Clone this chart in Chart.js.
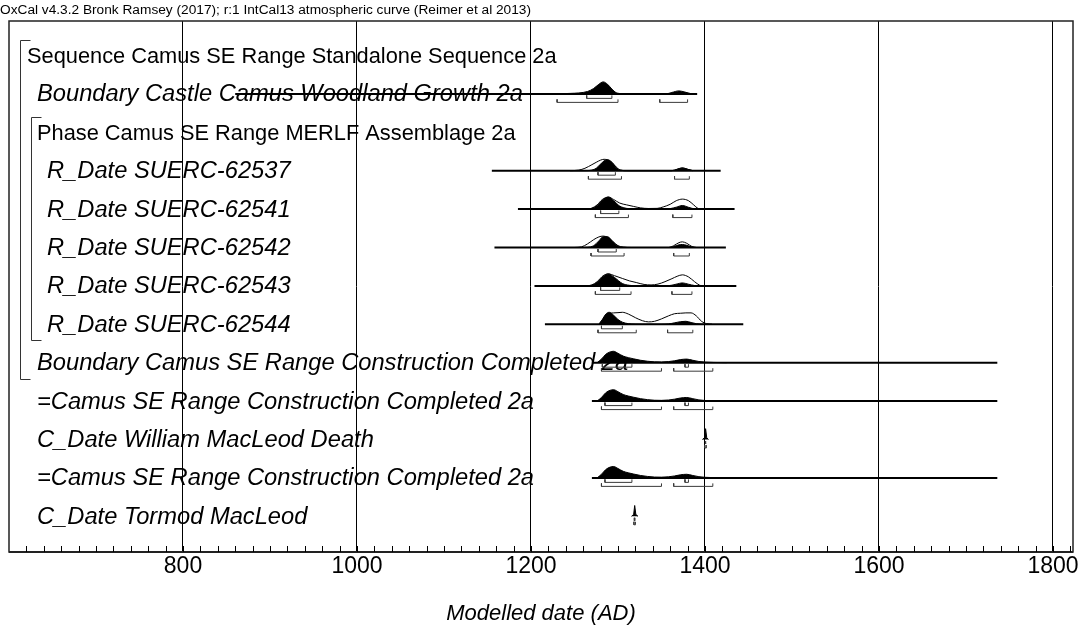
<!DOCTYPE html>
<html>
<head>
<meta charset="utf-8">
<script src="https://cdn.jsdelivr.net/npm/chart.js@4.4.0/dist/chart.umd.min.js"></script>
<style>
  html, body { margin: 0; padding: 0; background: #fff; }
  canvas { display: block; }
</style>
</head>
<body>
<canvas id="oxcalPlot" width="1083" height="628"></canvas>
<script>
const headerText = "OxCal v4.3.2 Bronk Ramsey (2017); r:1 IntCal13 atmospheric curve (Reimer et al 2013)";
const axisTitle = "Modelled date (AD)";
const labelledYears = [800, 1000, 1200, 1400, 1600, 1800];

const rowNames = [
  "Sequence Camus SE Range Standalone Sequence 2a",
  "Boundary Castle Camus Woodland Growth 2a",
  "Phase Camus SE Range MERLF Assemblage 2a",
  "R_Date SUERC-62537",
  "R_Date SUERC-62541",
  "R_Date SUERC-62542",
  "R_Date SUERC-62543",
  "R_Date SUERC-62544",
  "Boundary Camus SE Range Construction Completed 2a",
  "=Camus SE Range Construction Completed 2a",
  "C_Date William MacLeod Death",
  "=Camus SE Range Construction Completed 2a",
  "C_Date Tormod MacLeod"
];
const rowDepth = [0, 1, 1, 2, 2, 2, 2, 2, 1, 1, 1, 1, 1];

// model structure: Sequence rows 0-8, Phase rows 2-7
const groupFrom = [0, 2];
const groupTo = [8, 7];

// extent of the plotted range line for each row (null = none)
const lineFrom = [null, 860, null, 1155, 1185, 1158, 1204, 1216, 1270, 1270, null, 1270, null];
const lineTo = [null, 1391, null, 1418, 1434, 1424, 1436, 1444, 1736, 1736, null, 1736, null];

// Boundary Castle Camus Woodland Growth 2a
const castleYears = [1230, 1245, 1255, 1265, 1272, 1278, 1283, 1288, 1293, 1298, 1305, 1320, 1355, 1362, 1370, 1377, 1384, 1390];
const castlePost = [0, 0.04, 0.08, 0.2, 0.45, 0.8, 1.0, 0.8, 0.4, 0.1, 0.02, 0, 0, 0.12, 0.25, 0.15, 0.02, 0];
const castle68 = [[1264, 1293]];
const castle95 = [[1230, 1300], [1348, 1380]];

// R_Date SUERC-62537
const s62537Years = [1245, 1255, 1262, 1270, 1275, 1280, 1284, 1288, 1293, 1298, 1303, 1310, 1362, 1368, 1374, 1380, 1386];
const s62537Prior = [0, 0.05, 0.2, 0.5, 0.7, 0.88, 0.95, 0.9, 0.7, 0.3, 0.05, 0, 0, 0.12, 0.24, 0.12, 0];
const s62537Post = [0, 0, 0, 0.05, 0.2, 0.55, 0.82, 0.92, 0.7, 0.25, 0.04, 0, 0, 0.12, 0.22, 0.12, 0];
const s62537r68 = [[1277, 1297]];
const s62537r95 = [[1266, 1304], [1365, 1382]];

// R_Date SUERC-62541
const s62541Years = [1262, 1270, 1276, 1282, 1289, 1295, 1302, 1310, 1318, 1326, 1335, 1345, 1352, 1360, 1367, 1374, 1381, 1387, 1392, 1396];
const s62541Prior = [0, 0.08, 0.35, 0.8, 1.0, 0.8, 0.5, 0.35, 0.22, 0.1, 0.05, 0.06, 0.18, 0.4, 0.7, 0.83, 0.7, 0.35, 0.05, 0];
const s62541Post = [0, 0.06, 0.3, 0.75, 1.0, 0.7, 0.25, 0.06, 0.01, 0, 0, 0, 0, 0.04, 0.16, 0.3, 0.15, 0.03, 0, 0];
const s62541r68 = [[1280, 1301]];
const s62541r95 = [[1274, 1312], [1363, 1385]];

// R_Date SUERC-62542
const s62542Years = [1250, 1258, 1265, 1272, 1278, 1283, 1288, 1294, 1300, 1306, 1315, 1358, 1364, 1370, 1374, 1379, 1385, 1390];
const s62542Prior = [0, 0.05, 0.3, 0.65, 0.88, 0.95, 0.85, 0.5, 0.15, 0.03, 0, 0, 0.15, 0.4, 0.47, 0.35, 0.08, 0];
const s62542Post = [0, 0, 0.02, 0.15, 0.55, 0.9, 0.9, 0.5, 0.12, 0.02, 0, 0, 0.08, 0.22, 0.25, 0.18, 0.04, 0];
const s62542r68 = [[1277, 1298]];
const s62542r95 = [[1269, 1307], [1364, 1382]];

// R_Date SUERC-62543
const s62543Years = [1262, 1270, 1276, 1283, 1289, 1296, 1305, 1313, 1321, 1330, 1338, 1346, 1354, 1362, 1368, 1374, 1381, 1388, 1394, 1398];
const s62543Prior = [0, 0.08, 0.35, 0.85, 1.0, 0.85, 0.62, 0.42, 0.28, 0.12, 0.08, 0.15, 0.35, 0.6, 0.8, 0.92, 0.75, 0.35, 0.05, 0];
const s62543Post = [0, 0.06, 0.3, 0.8, 1.0, 0.7, 0.2, 0.05, 0.01, 0, 0, 0, 0, 0.06, 0.16, 0.25, 0.14, 0.03, 0, 0];
const s62543r68 = [[1280, 1302]];
const s62543r95 = [[1274, 1315], [1362, 1385]];

// R_Date SUERC-62544
const s62544Years = [1278, 1282, 1286, 1290, 1295, 1300, 1305, 1312, 1320, 1328, 1335, 1342, 1350, 1358, 1365, 1372, 1378, 1384, 1390, 1396, 1402, 1408];
const s62544Prior = [0, 0.35, 0.75, 0.9, 0.95, 0.97, 1.0, 0.85, 0.55, 0.3, 0.2, 0.25, 0.45, 0.7, 0.88, 0.92, 0.95, 0.95, 0.7, 0.25, 0.05, 0];
const s62544Post = [0, 0.4, 0.85, 1.0, 0.75, 0.4, 0.18, 0.05, 0.01, 0, 0, 0, 0, 0.03, 0.12, 0.22, 0.25, 0.15, 0.05, 0.01, 0, 0];
const s62544r68 = [[1281, 1305]];
const s62544r95 = [[1277, 1321], [1357, 1386]];

// Camus SE Range Construction Completed 2a (boundary and its two = copies)
const completedYears = [1276, 1281, 1286, 1291, 1295, 1300, 1306, 1312, 1318, 1326, 1334, 1342, 1350, 1358, 1365, 1372, 1379, 1386, 1393, 1400, 1410, 1425];
const completedPost = [0, 0.3, 0.7, 0.9, 0.95, 0.78, 0.55, 0.42, 0.32, 0.2, 0.12, 0.07, 0.06, 0.09, 0.16, 0.26, 0.3, 0.2, 0.1, 0.05, 0.02, 0];
const completedR68 = [[1282, 1316], [1377, 1381]];
const completedEqR68 = [[1285, 1316], [1377, 1381]];
const completedR95 = [[1281, 1350], [1364, 1409]];

// C_Date William MacLeod Death
const williamYears = [1397, 1399.5, 1400.7, 1402, 1404];
const williamPost = [0, 0.15, 0.9, 0.15, 0];
const williamR68 = [[1400.3, 1401.1]];
const williamR95 = [[1399.8, 1401.6]];

// C_Date Tormod MacLeod
const tormodYears = [1315.5, 1318, 1319.2, 1320.5, 1323];
const tormodPost = [0, 0.15, 0.9, 0.15, 0];
const tormodR68 = [[1318.8, 1319.6]];
const tormodR95 = [[1318.3, 1320.1]];

const rows = [
  { k: 1, years: castleYears, post: castlePost, r68: castle68, r95: castle95 },
  { k: 3, years: s62537Years, prior: s62537Prior, post: s62537Post, r68: s62537r68, r95: s62537r95 },
  { k: 4, years: s62541Years, prior: s62541Prior, post: s62541Post, r68: s62541r68, r95: s62541r95 },
  { k: 5, years: s62542Years, prior: s62542Prior, post: s62542Post, r68: s62542r68, r95: s62542r95 },
  { k: 6, years: s62543Years, prior: s62543Prior, post: s62543Post, r68: s62543r68, r95: s62543r95 },
  { k: 7, years: s62544Years, prior: s62544Prior, post: s62544Post, r68: s62544r68, r95: s62544r95 },
  { k: 8, years: completedYears, post: completedPost, r68: completedR68, r95: completedR95 },
  { k: 9, years: completedYears, post: completedPost, r68: completedEqR68, r95: completedR95 },
  { k: 10, years: williamYears, post: williamPost, r68: williamR68, r95: williamR95, spike: true },
  { k: 11, years: completedYears, post: completedPost, r68: completedEqR68, r95: completedR95 },
  { k: 12, years: tormodYears, post: tormodPost, r68: tormodR68, r95: tormodR95, spike: true }
];

const FONT = "'Liberation Sans', Arial, Helvetica, sans-serif";
const PX = 1 / 38.4;           // one pixel in row units
const PEAK = 12 * PX;          // height of a density of 1
const Y_MIN = -0.898;
const Y_MAX = 12.93;

const postSets = [];
const priorSets = [];
const bracketSets = [];
const lineSets = [];

function bracket(a, b, y, tick) {
  return {
    data: [{ x: a, y: y - tick }, { x: a, y: y }, { x: b, y: y }, { x: b, y: y - tick }],
    borderColor: "#3a3a3a",
    borderWidth: 1,
    fill: false,
    pointRadius: 0,
    tension: 0
  };
}

rows.forEach((r) => {
  const pts = (vals) => r.years.map((yr, i) => ({ x: yr, y: r.k - vals[i] * PEAK }));
  postSets.push({
    data: pts(r.post),
    borderColor: "#000",
    backgroundColor: "#000",
    borderWidth: 1,
    fill: { value: r.k },
    pointRadius: 0,
    cubicInterpolationMode: r.spike ? "default" : "monotone",
    tension: 0
  });
  if (r.prior) {
    priorSets.push({
      data: pts(r.prior),
      borderColor: "#000",
      borderWidth: 1,
      fill: false,
      pointRadius: 0,
      cubicInterpolationMode: "monotone"
    });
  }
  r.r68.forEach(([a, b]) => bracketSets.push(bracket(a, b, r.k + 4.5 * PX, 3 * PX)));
  r.r95.forEach(([a, b]) => bracketSets.push(bracket(a, b, r.k + 8.5 * PX, 3 * PX)));
});

lineFrom.forEach((from, k) => {
  if (from === null) return;
  lineSets.push({
    data: [{ x: from, y: k }, { x: lineTo[k], y: k }],
    borderColor: "#000",
    borderWidth: 2,
    fill: false,
    pointRadius: 0
  });
});

const oxcalDecor = {
  id: "oxcalDecor",
  beforeDatasetsDraw(chart) {
    const ctx = chart.ctx;
    const y = chart.scales.y;
    ctx.save();
    ctx.fillStyle = "#000";
    ctx.textBaseline = "alphabetic";
    rowNames.forEach((name, k) => {
      const plain = name.startsWith("Sequence") || name.startsWith("Phase");
      ctx.font = plain ? "21.8px " + FONT : "italic 23.7px " + FONT;
      ctx.fillText(name, 27 + rowDepth[k] * 10, y.getPixelForValue(k) + 7.5);
    });
    ctx.restore();
  },
  afterDraw(chart) {
    const ctx = chart.ctx;
    const area = chart.chartArea;
    const x = chart.scales.x;
    const y = chart.scales.y;
    ctx.save();

    // structure brackets
    ctx.strokeStyle = "#333";
    ctx.lineWidth = 1;
    groupFrom.forEach((from, g) => {
      const gx = 20.5 + g * 11;
      const top = Math.round(y.getPixelForValue(from) - 15) + 0.5;
      const bottom = Math.round(y.getPixelForValue(groupTo[g]) + 16) + 0.5;
      ctx.beginPath();
      ctx.moveTo(gx + 10, top);
      ctx.lineTo(gx, top);
      ctx.lineTo(gx, bottom);
      ctx.lineTo(gx + 10, bottom);
      ctx.stroke();
    });

    // frame
    ctx.strokeStyle = "#222";
    ctx.lineWidth = 1.5;
    ctx.strokeRect(area.left, area.top, area.right - area.left, area.bottom - area.top);
    ctx.lineWidth = 2;
    ctx.beginPath();
    ctx.moveTo(area.left, area.bottom);
    ctx.lineTo(area.right, area.bottom);
    ctx.stroke();

    // minor ticks pointing inwards
    ctx.lineWidth = 1;
    ctx.strokeStyle = "#000";
    x.ticks.forEach((t) => {
      const px = Math.round(x.getPixelForValue(t.value)) + 0.5;
      if (px <= area.left + 2) return;
      ctx.beginPath();
      ctx.moveTo(px, area.bottom);
      ctx.lineTo(px, area.bottom - 6);
      ctx.stroke();
    });

    // header
    ctx.fillStyle = "#000";
    ctx.font = "13.7px " + FONT;
    ctx.textBaseline = "alphabetic";
    ctx.fillText(headerText, 0, 14);
    ctx.restore();
  }
};

new Chart(document.getElementById("oxcalPlot"), {
  type: "line",
  data: { datasets: [...postSets, ...priorSets, ...bracketSets, ...lineSets] },
  options: {
    responsive: false,
    animation: false,
    devicePixelRatio: 1,
    layout: { padding: { left: 9, right: 10, top: 21, bottom: 0 } },
    plugins: { legend: { display: false }, tooltip: { enabled: false } },
    scales: {
      x: {
        type: "linear",
        min: 600,
        max: 1823,
        afterFit: (s) => { s.height = 76; },
        border: { display: false },
        grid: {
          drawTicks: false,
          lineWidth: 1,
          color: (c) => (c.tick && labelledYears.includes(c.tick.value) ? "#000" : "rgba(0,0,0,0)")
        },
        ticks: {
          stepSize: 20,
          autoSkip: false,
          maxRotation: 0,
          includeBounds: false,
          padding: 1,
          color: "#000",
          font: { family: FONT, size: 23 },
          callback: (v) => (labelledYears.includes(v) ? String(v) : "")
        },
        title: {
          display: true,
          text: axisTitle,
          color: "#000",
          font: { family: FONT, size: 22, style: "italic" },
          padding: { top: 0, bottom: 1 }
        }
      },
      y: {
        type: "linear",
        display: false,
        reverse: true,
        min: Y_MIN,
        max: Y_MAX
      }
    }
  },
  plugins: [oxcalDecor]
});
</script>
</body>
</html>
